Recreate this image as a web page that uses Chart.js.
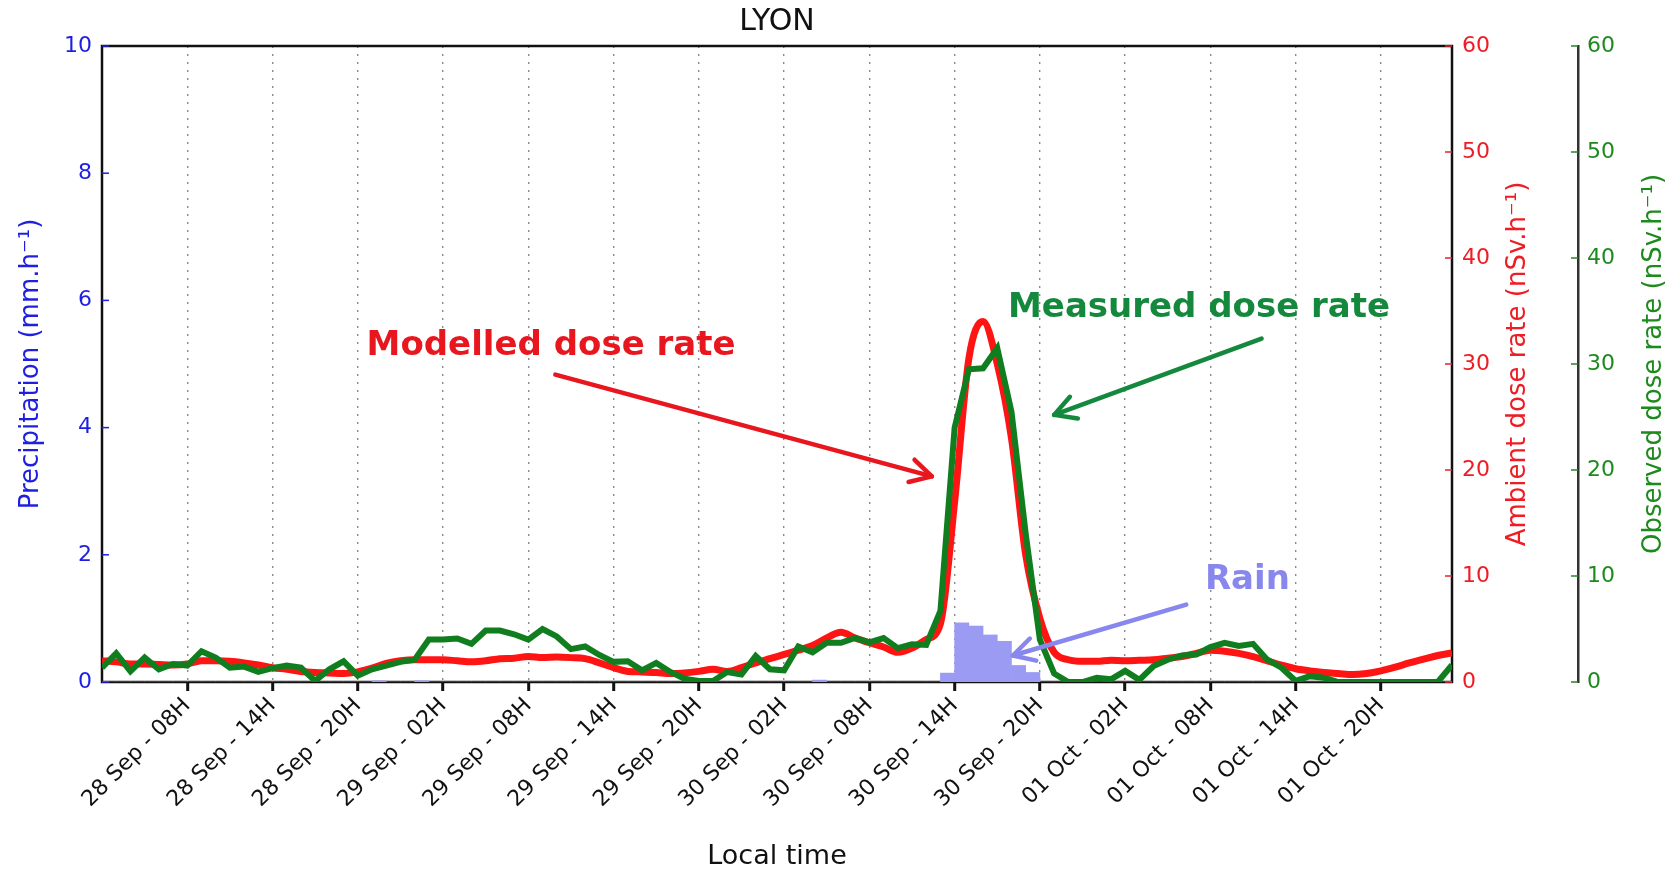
<!DOCTYPE html>
<html lang="en">
<head>
  <meta charset="UTF-8" />
  <title>LYON - dose rate</title>
  <script src="https://cdn.jsdelivr.net/npm/chart.js"></script>
  <style>
    html, body { margin: 0; padding: 0; background: #fff; }
    #chart { display: block; }
  </style>
</head>
<body>
  <canvas id="chart" width="1670" height="874"></canvas>
  <script>
    // hourly samples, hour 0 = 28 Sep 02H (local time)
    const hours = [
      0, 1, 2, 3, 4, 5, 6, 7, 8, 9, 10, 11, 12, 13, 14, 15,
      16, 17, 18, 19, 20, 21, 22, 23, 24, 25, 26, 27, 28, 29, 30, 31,
      32, 33, 34, 35, 36, 37, 38, 39, 40, 41, 42, 43, 44, 45, 46, 47,
      48, 49, 50, 51, 52, 53, 54, 55, 56, 57, 58, 59, 60, 61, 62, 63,
      64, 65, 66, 67, 68, 69, 70, 71, 72, 73, 74, 75, 76, 77, 78, 79,
      80, 81, 82, 83, 84, 85, 86, 87, 88, 89, 90, 91, 92, 93, 94, 95
    ];

    // precipitation (mm/h), one bar per hour
    const rain = [
      0, 0, 0, 0, 0, 0, 0, 0, 0, 0,
      0, 0, 0, 0, 0, 0, 0, 0, 0, 0.02,
      0, 0, 0.02, 0, 0, 0, 0, 0, 0, 0,
      0, 0, 0, 0, 0, 0, 0, 0, 0, 0,
      0, 0, 0, 0, 0, 0, 0, 0, 0, 0,
      0.03, 0, 0, 0, 0, 0, 0, 0, 0, 0.14,
      0.93, 0.88, 0.74, 0.64, 0.26, 0.15, 0, 0, 0, 0,
      0, 0, 0, 0, 0, 0, 0, 0, 0, 0,
      0, 0, 0, 0, 0, 0, 0, 0, 0, 0,
      0, 0, 0, 0, 0, 0
    ];

    // modelled ambient dose rate (nSv/h)
    const modelled = [
      2.0, 1.9, 1.7, 1.7, 1.65, 1.6, 1.7, 2.0, 2.0, 1.95,
      1.8, 1.6, 1.35, 1.2, 1.0, 0.9, 0.85, 0.8, 0.95, 1.3,
      1.75, 2.0, 2.1, 2.1, 2.1, 2.0, 1.9, 2.0, 2.2, 2.25,
      2.4, 2.3, 2.35, 2.3, 2.2, 1.8, 1.35, 1.0, 0.95, 0.9,
      0.8, 0.85, 1.0, 1.2, 1.0, 1.35, 1.8, 2.2, 2.6, 3.0,
      3.45, 4.15, 4.7, 4.15, 3.7, 3.3, 2.8, 3.2, 4.0, 5.5,
      17, 30.5, 34, 30, 23, 12, 6, 2.8, 2.1, 1.95,
      1.95, 2.05, 2.0, 2.05, 2.1, 2.25, 2.4, 2.7, 3.0, 2.9,
      2.7, 2.4, 2.0, 1.6, 1.25, 1.05, 0.9, 0.8, 0.7, 0.8,
      1.05, 1.4, 1.8, 2.15, 2.5, 2.75
    ];

    // observed dose rate (nSv/h)
    const observed = [
      1.35, 2.7, 1.0, 2.3, 1.2, 1.7, 1.55, 2.9, 2.3, 1.35,
      1.45, 0.95, 1.3, 1.55, 1.35, 0.1, 1.2, 1.95, 0.6, 1.2,
      1.55, 1.9, 2.1, 4.0, 4.0, 4.1, 3.6, 4.85, 4.85, 4.5,
      4.0, 5.0, 4.3, 3.1, 3.35, 2.55, 1.9, 1.95, 1.1, 1.8,
      0.95, 0.3, 0.1, 0.1, 0.95, 0.7, 2.45, 1.2, 1.1, 3.35,
      2.8, 3.7, 3.7, 4.15, 3.75, 4.15, 3.2, 3.55, 3.5, 6.7,
      24, 29.5, 29.6, 31.5, 25.5, 14, 4, 0.8, 0, 0,
      0.4, 0.25, 1.05, 0.2, 1.5, 2.1, 2.5, 2.6, 3.3, 3.7,
      3.4, 3.6, 2.1, 1.35, 0.1, 0.55, 0.4, 0, 0, 0,
      0, 0, 0, 0, 0, 1.6
    ];

    const xTickHours = [6, 12, 18, 24, 30, 36, 42, 48, 54, 60, 66, 72, 78, 84, 90];
    const xTickLabels = [
      '28 Sep - 08H', '28 Sep - 14H', '28 Sep - 20H',
      '29 Sep - 02H', '29 Sep - 08H', '29 Sep - 14H', '29 Sep - 20H',
      '30 Sep - 02H', '30 Sep - 08H', '30 Sep - 14H', '30 Sep - 20H',
      '01 Oct - 02H', '01 Oct - 08H', '01 Oct - 14H', '01 Oct - 20H'
    ];

    // callouts, in (hour, nSv/h) on the ambient dose axis
    const notes = [
      { text: 'Modelled dose rate', color: '#e8161e', at: [31.6, 31.7], from: [31.9, 29.0], to: [58.4, 19.4], size: 34 },
      { text: 'Measured dose rate', color: '#14883c', at: [77.2, 35.3], from: [81.6, 32.4], to: [67.0, 25.2], size: 34 },
      { text: 'Rain', color: '#8787ee', at: [80.6, 9.6], from: [76.3, 7.3], to: [64.1, 2.5], size: 34 }
    ];

    const BLUE = '#1f1fe0';
    const RED = '#ee1c25';
    const GREEN = '#1e8a1e';

    Chart.defaults.font.family = "'DejaVu Sans', sans-serif";

    const frame = {
      id: 'frame',
      beforeDatasetsDraw(chart) {
        const { ctx, chartArea: a, scales } = chart;
        ctx.save();
        ctx.strokeStyle = '#111';
        ctx.lineWidth = 2.5;
        ctx.strokeRect(a.left, a.top, a.right - a.left, a.bottom - a.top);
        // short tick marks on the three value axes
        ctx.lineWidth = 1.5;
        const marks = [[scales.yRain, a.left, 7, BLUE], [scales.yRed, a.right, -7, RED], [scales.yGreen, scales.yGreen.left, -7, GREEN]];
        marks.forEach(([s, x0, len, col]) => {
          ctx.strokeStyle = col;
          s.ticks.forEach(t => {
            const y = s.getPixelForValue(t.value);
            ctx.beginPath();
            ctx.moveTo(x0, y);
            ctx.lineTo(x0 + len, y);
            ctx.stroke();
          });
        });
        ctx.restore();
      },
      afterDraw(chart) {
        const { ctx, chartArea: a, scales } = chart;
        const midY = (a.top + a.bottom) / 2;
        ctx.save();
        ctx.font = "26px 'DejaVu Sans'";
        ctx.textAlign = 'center';
        ctx.textBaseline = 'middle';
        [[scales.yRed, 66, RED, 'Ambient dose rate (nSv.h\u207B\u00B9)'],
         [scales.yGreen, 76, GREEN, 'Observed dose rate (nSv.h\u207B\u00B9)']].forEach(([s, off, col, txt]) => {
          ctx.save();
          ctx.translate(s.left + off, midY);
          ctx.rotate(-Math.PI / 2);
          ctx.fillStyle = col;
          ctx.fillText(txt, 0, 0);
          ctx.restore();
        });
        ctx.restore();
      }
    };

    const annotate = {
      id: 'annotate',
      afterDatasetsDraw(chart) {
        const { ctx, scales: { x, yRed } } = chart;
        const px = p => [x.getPixelForValue(p[0]), yRed.getPixelForValue(p[1])];
        ctx.save();
        notes.forEach(n => {
          const [x1, y1] = px(n.from);
          const [x2, y2] = px(n.to);
          ctx.strokeStyle = n.color;
          ctx.lineWidth = 4.5;
          ctx.lineCap = 'round';
          ctx.lineJoin = 'round';
          ctx.beginPath();
          ctx.moveTo(x1, y1);
          ctx.lineTo(x2, y2);
          ctx.stroke();
          const ang = Math.atan2(y2 - y1, x2 - x1);
          const L = 24, spread = 0.5;
          ctx.beginPath();
          ctx.moveTo(x2 - L * Math.cos(ang - spread), y2 - L * Math.sin(ang - spread));
          ctx.lineTo(x2, y2);
          ctx.lineTo(x2 - L * Math.cos(ang + spread), y2 - L * Math.sin(ang + spread));
          ctx.stroke();
          const [tx, ty] = px(n.at);
          ctx.fillStyle = n.color;
          ctx.font = "bold " + n.size + "px 'DejaVu Sans'";
          ctx.textAlign = 'center';
          ctx.textBaseline = 'middle';
          ctx.fillText(n.text, tx, ty);
        });
        ctx.restore();
      }
    };

    new Chart(document.getElementById('chart'), {
      type: 'line',
      data: {
        datasets: [
          {
            label: 'Observed dose rate',
            data: hours.map((h, i) => ({ x: h, y: observed[i] })),
            yAxisID: 'yGreen',
            borderColor: '#107e1e',
            borderWidth: 6,
            pointRadius: 0,
            tension: 0,
            order: 1
          },
          {
            label: 'Ambient dose rate',
            data: hours.map((h, i) => ({ x: h, y: modelled[i] })),
            yAxisID: 'yRed',
            borderColor: '#ff1414',
            borderWidth: 7,
            pointRadius: 0,
            cubicInterpolationMode: 'monotone',
            order: 2
          },
          {
            type: 'bar',
            label: 'Precipitation',
            // bars cover the hour that follows each sample
            data: hours.map((h, i) => ({ x: h + 0.5, y: rain[i] })),
            yAxisID: 'yRain',
            backgroundColor: '#9b9bf3',
            borderWidth: 0,
            barPercentage: 1,
            categoryPercentage: 1,
            order: 3
          }
        ]
      },
      options: {
        responsive: false,
        animation: false,
        layout: { padding: 0 },
        plugins: {
          legend: { display: false },
          tooltip: { enabled: false },
          title: {
            display: true,
            text: 'LYON',
            color: '#111',
            fullSize: false,
            font: { size: 30, weight: 'normal' },
            padding: { top: 4, bottom: 6 }
          }
        },
        scales: {
          x: {
            type: 'linear',
            min: 0,
            max: 95,
            offset: false,
            afterBuildTicks: s => { s.ticks = xTickHours.map(v => ({ value: v })); },
            afterFit: s => { s.height = 192; },
            ticks: {
              autoSkip: false,
              maxRotation: 45,
              minRotation: 45,
              padding: 2,
              color: '#111',
              font: { size: 22 },
              callback: v => xTickLabels[xTickHours.indexOf(v)]
            },
            grid: {
              offset: false,
              color: '#8a8a8a',
              lineWidth: 1.4,
              drawTicks: true,
              tickLength: 9,
              tickColor: '#111',
              tickWidth: 3,
              tickBorderDash: []
            },
            border: { display: false, dash: [2, 6] },
            title: {
              display: true,
              text: 'Local time',
              color: '#111',
              font: { size: 27 },
              padding: { top: 0, bottom: 1 }
            }
          },
          yRain: {
            position: 'left',
            min: 0,
            max: 10,
            afterFit: s => { s.width = 102; },
            ticks: { stepSize: 2, color: BLUE, font: { size: 22 }, padding: 10 },
            grid: { display: false, drawTicks: false },
            border: { display: false },
            title: {
              display: true,
              text: 'Precipitation (mm.h\u207B\u00B9)',
              color: BLUE,
              font: { size: 26 },
              padding: { top: 16, bottom: 0 }
            }
          },
          yRed: {
            position: 'right',
            weight: 0,
            min: 0,
            max: 60,
            afterFit: s => { s.width = 126; },
            ticks: { stepSize: 10, color: RED, font: { size: 22 }, padding: 10 },
            grid: { display: false, drawTicks: false },
            border: { display: false }
          },
          yGreen: {
            position: 'right',
            weight: 1,
            min: 0,
            max: 60,
            afterFit: s => { s.width = 92; },
            ticks: { stepSize: 10, color: GREEN, font: { size: 22 }, padding: 9 },
            grid: { display: false, drawTicks: false },
            border: { display: true, color: '#333', width: 2.5 }
          }
        }
      },
      plugins: [frame, annotate]
    });
  </script>
</body>
</html>
